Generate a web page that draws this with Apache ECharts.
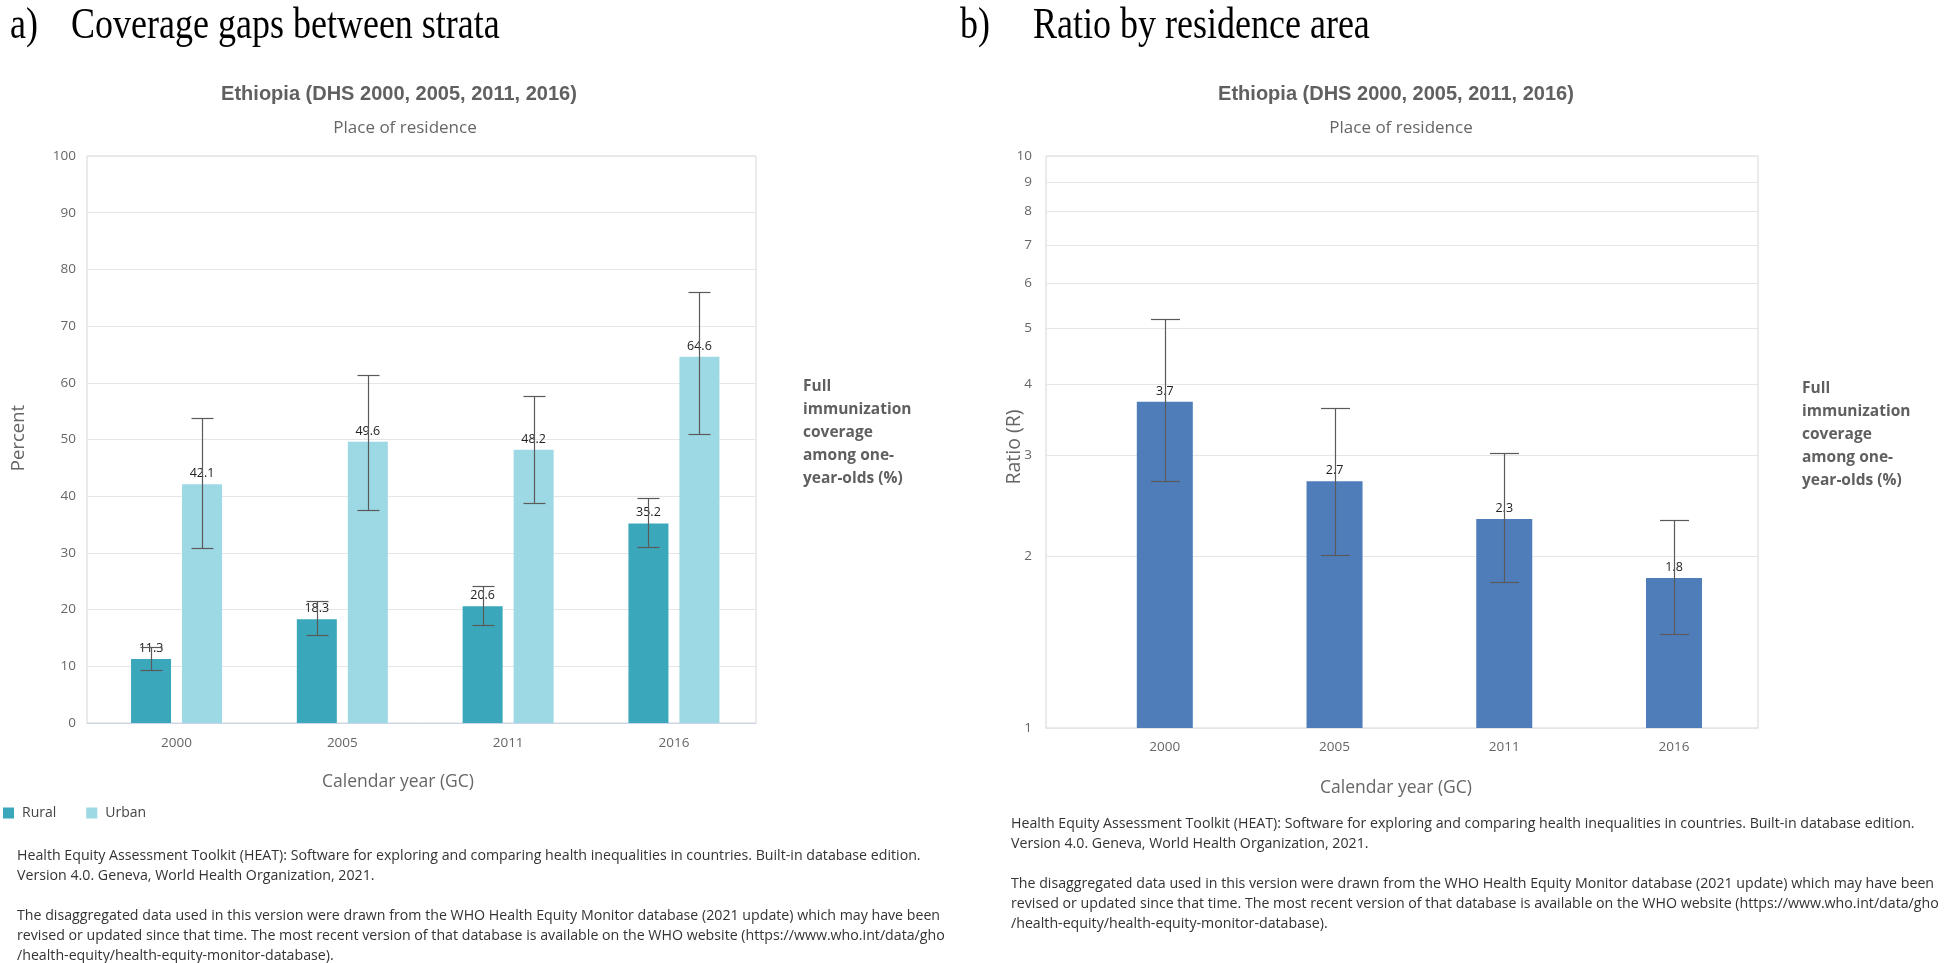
<!DOCTYPE html>
<html><head><meta charset="utf-8">
<script src="https://cdn.jsdelivr.net/npm/echarts@6/dist/echarts.min.js"></script>
<style>html,body{margin:0;padding:0;background:#fff}#c{width:1952px;height:963px}</style>
</head><body><div id="c"></div>
<script>
// ---- data ----
const years = ['2000', '2005', '2011', '2016'];
const rural = [11.3, 18.3, 20.6, 35.2];
const ruralLow = [9.3, 15.5, 17.3, 31.0];
const ruralHigh = [13.4, 21.6, 24.1, 39.6];
const urban = [42.1, 49.6, 48.2, 64.6];
const urbanLow = [30.9, 37.6, 38.8, 51.0];
const urbanHigh = [53.8, 61.4, 57.6, 76.1];
const ratio = [3.72, 2.70, 2.32, 1.83];
const ratioLow = [2.70, 2.01, 1.80, 1.46];
const ratioHigh = [5.18, 3.63, 3.03, 2.31];
const ratioTicks = [1, 2, 3, 4, 5, 6, 7, 8, 9, 10];
const yearIndex = years.map((y, i) => i);

// axis padding around the category positions (index units)
const X_RANGE_A = [-0.54, 3.495];
const X_RANGE_B = [-0.70, 3.495];

const SANS = '"Open Sans", "Noto Sans", sans-serif';
const SERIF = '"Liberation Serif", "Times New Roman", serif';
const footer = 'Health Equity Assessment Toolkit (HEAT): Software for exploring and comparing health inequalities in countries. Built-in database edition.\n' +
  'Version 4.0. Geneva, World Health Organization, 2021.\n\n' +
  'The disaggregated data used in this version were drawn from the WHO Health Equity Monitor database (2021 update) which may have been\n' +
  'revised or updated since that time. The most recent version of that database is available on the WHO website (https://www.who.int/data/gho\n' +
  '/health-equity/health-equity-monitor-database).';
const sideText = 'Full\nimmunization\ncoverage\namong one-\nyear-olds (%)';

function pairs(vals) { return vals.map((v, i) => [yearIndex[i], v]); }

function errorSeries(xi, lows, highs, offset, capW) {
  return {
    type: 'custom', xAxisIndex: xi, yAxisIndex: xi, z: 10, silent: true,
    data: lows.map((l, i) => [yearIndex[i], l, highs[i]]),
    encode: { x: 0, y: [1, 2] },
    renderItem: (params, api) => {
      const i = api.value(0);
      const lo = api.coord([i, api.value(1)]);
      const hi = api.coord([i, api.value(2)]);
      const x = Math.round(lo[0] + offset) + 0.5;
      const y1 = Math.round(hi[1]) + 0.5, y2 = Math.round(lo[1]) + 0.5;
      const st = { stroke: '#5a5a5a', lineWidth: 1.2 };
      return { type: 'group', children: [
        { type: 'line', shape: { x1: x, y1: y1, x2: x, y2: y2 }, style: st },
        { type: 'line', shape: { x1: x - capW / 2, y1: y1, x2: x + capW / 2, y2: y1 }, style: st },
        { type: 'line', shape: { x1: x - capW / 2, y1: y2, x2: x + capW / 2, y2: y2 }, style: st }
      ]};
    }
  };
}

function xAxisDef(gi, range, margin) {
  return {
    type: 'value', gridIndex: gi, min: range[0], max: range[1],
    axisTick: { show: false }, splitLine: { show: false },
    axisLine: { show: true, onZero: false, lineStyle: { color: '#ccd6eb' } },
    axisLabel: { customValues: yearIndex, formatter: v => years[Math.round(v)], color: '#666', fontSize: 13.5, fontFamily: SANS, margin: margin }
  };
}

const labelStyle = { show: true, position: 'top', distance: 4, color: '#222', fontSize: 12.5, fontFamily: SANS };

function titleText(x, text) {
  return { type: 'text', x: x, y: 26, scaleY: 1.22, style: { text: text, font: '36px ' + SERIF, fill: '#000', verticalAlign: 'middle' } };
}

const option = {
  animation: false,
  backgroundColor: '#fff',
  grid: [
    { left: 87, top: 156, width: 669, height: 567, show: true, borderColor: '#d6d6d6', borderWidth: 1, containLabel: false },
    { left: 1046, top: 156, width: 712, height: 572, show: true, borderColor: '#d6d6d6', borderWidth: 1, containLabel: false }
  ],
  xAxis: [ xAxisDef(0, X_RANGE_A, 13), xAxisDef(1, X_RANGE_B, 12) ],
  yAxis: [
    { type: 'value', gridIndex: 0, min: 0, max: 100, interval: 10,
      axisLine: { show: false }, axisTick: { show: false },
      splitLine: { lineStyle: { color: '#e6e6e6' } },
      axisLabel: { color: '#666', fontSize: 13.5, fontFamily: SANS, margin: 11 } },
    { type: 'log', gridIndex: 1, logBase: 10, min: 1, max: 10,
      axisLine: { show: false }, axisTick: { show: false },
      splitLine: { show: false }, axisLabel: { show: false } }
  ],
  legend: {
    left: 3, top: 806, padding: 0, icon: 'rect', itemWidth: 11, itemHeight: 11, itemGap: 30,
    data: ['Rural', 'Urban'],
    textStyle: { color: '#444', fontSize: 14, fontFamily: SANS, padding: [0, 0, 0, 3] }
  },
  series: [
    { name: 'Rural', type: 'bar', xAxisIndex: 0, yAxisIndex: 0, data: pairs(rural), barWidth: 40, barGap: '27.5%',
      itemStyle: { color: '#3ba7ba' }, label: labelStyle, z: 2 },
    { name: 'Urban', type: 'bar', xAxisIndex: 0, yAxisIndex: 0, data: pairs(urban), barWidth: 40, barGap: '27.5%',
      itemStyle: { color: '#9dd9e4' }, label: labelStyle, z: 2 },
    errorSeries(0, ruralLow, ruralHigh, -25.5, 22),
    errorSeries(0, urbanLow, urbanHigh, 25.5, 22),
    { type: 'custom', xAxisIndex: 1, yAxisIndex: 1, z: 1, silent: true,
      data: ratioTicks.map(v => [0, v]), encode: { x: 0, y: 1 },
      renderItem: (params, api) => {
        const cs = params.coordSys;
        const y = Math.round(api.coord([0, api.value(1)])[1]) + 0.5;
        return { type: 'group', children: [
          { type: 'line', shape: { x1: cs.x, y1: y, x2: cs.x + cs.width, y2: y }, style: { stroke: '#e6e6e6', lineWidth: 1 } },
          { type: 'text', x: cs.x - 14, y: y, style: { text: String(api.value(1)), align: 'right', verticalAlign: 'middle', fill: '#666', font: '13.5px ' + SANS } }
        ]};
      } },
    { name: 'Ratio', type: 'bar', xAxisIndex: 1, yAxisIndex: 1, data: pairs(ratio), barWidth: 56,
      itemStyle: { color: '#4e7dba' }, z: 2,
      label: Object.assign({}, labelStyle, { formatter: p => p.value[1].toFixed(1) }) },
    errorSeries(1, ratioLow, ratioHigh, 0, 29)
  ],
  graphic: [
    titleText(10, 'a)'),
    titleText(71, 'Coverage gaps between strata'),
    titleText(960, 'b)'),
    titleText(1033, 'Ratio by residence area'),

    { type: 'text', x: 399, y: 94, style: { text: 'Ethiopia (DHS 2000, 2005, 2011, 2016)', font: 'bold 20px "Liberation Sans", Arial, sans-serif', fill: '#606060', align: 'center', verticalAlign: 'middle' } },
    { type: 'text', x: 1396, y: 94, style: { text: 'Ethiopia (DHS 2000, 2005, 2011, 2016)', font: 'bold 20px "Liberation Sans", Arial, sans-serif', fill: '#606060', align: 'center', verticalAlign: 'middle' } },
    { type: 'text', x: 405, y: 128, style: { text: 'Place of residence', font: '17px ' + SANS, fill: '#666', align: 'center', verticalAlign: 'middle' } },
    { type: 'text', x: 1401, y: 128, style: { text: 'Place of residence', font: '17px ' + SANS, fill: '#666', align: 'center', verticalAlign: 'middle' } },

    { type: 'text', x: 19, y: 438, rotation: Math.PI / 2, style: { text: 'Percent', font: '18.5px ' + SANS, fill: '#666', align: 'center', verticalAlign: 'middle' } },
    { type: 'text', x: 1014, y: 447, rotation: Math.PI / 2, style: { text: 'Ratio (R)', font: '19.5px ' + SANS, fill: '#666', align: 'center', verticalAlign: 'middle' } },

    { type: 'text', x: 398, y: 782, style: { text: 'Calendar year (GC)', font: '17.5px ' + SANS, fill: '#666', align: 'center', verticalAlign: 'middle' } },
    { type: 'text', x: 1396, y: 788, style: { text: 'Calendar year (GC)', font: '17.5px ' + SANS, fill: '#666', align: 'center', verticalAlign: 'middle' } },

    { type: 'text', x: 803, y: 375, style: { text: sideText, font: 'bold 15.5px ' + SANS, fill: '#5f5f5f', lineHeight: 23, verticalAlign: 'top' } },
    { type: 'text', x: 1802, y: 377, style: { text: sideText, font: 'bold 15.5px ' + SANS, fill: '#5f5f5f', lineHeight: 23, verticalAlign: 'top' } },

    { type: 'text', x: 17, y: 846, style: { text: footer, font: '14.2px ' + SANS, fill: '#333', lineHeight: 20, verticalAlign: 'top' } },
    { type: 'text', x: 1011, y: 814, style: { text: footer, font: '14.2px ' + SANS, fill: '#333', lineHeight: 20, verticalAlign: 'top' } }
  ]
};

const chart = echarts.init(document.getElementById('c'), null, { renderer: 'canvas' });
chart.setOption(option);
</script>
</body></html>
